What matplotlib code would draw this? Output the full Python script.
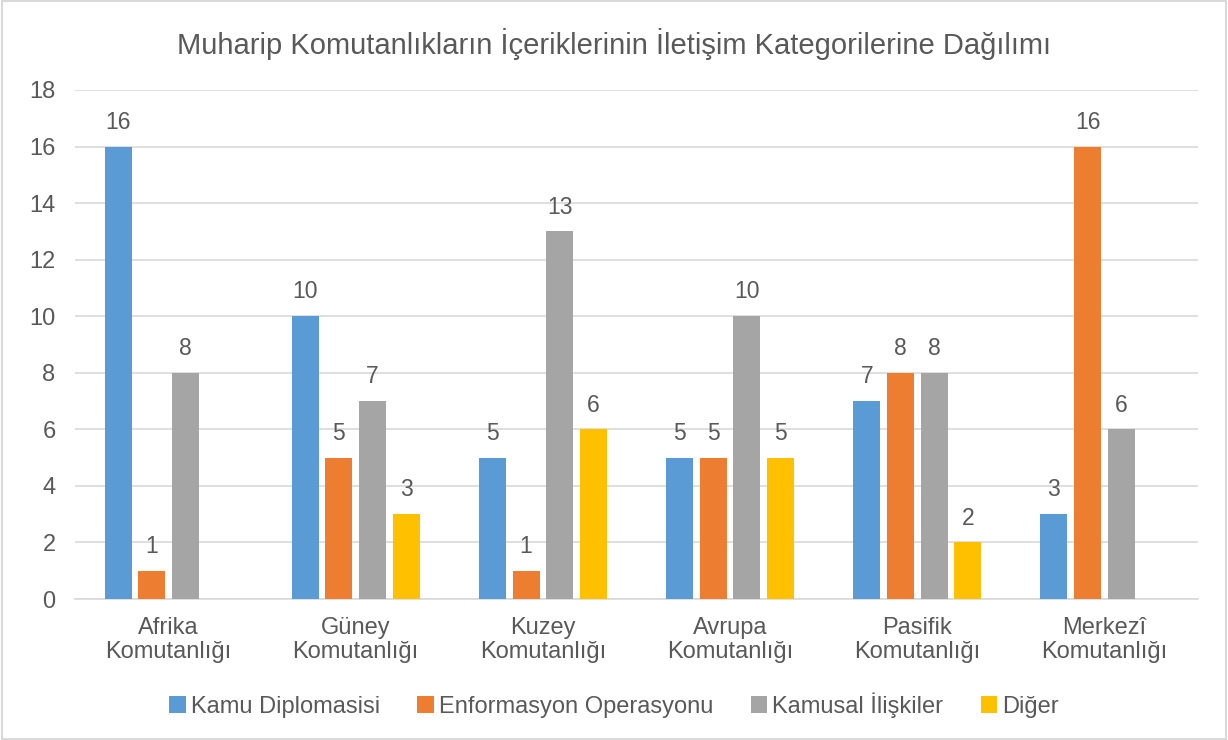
import numpy as np
import matplotlib.pyplot as plt
from matplotlib.patches import Rectangle, Patch

categories = ["Afrika\nKomutanlığı", "Güney\nKomutanlığı", "Kuzey\nKomutanlığı",
              "Avrupa\nKomutanlığı", "Pasifik\nKomutanlığı", "Merkezî\nKomutanlığı"]
series_names = ["Kamu Diplomasisi", "Enformasyon Operasyonu", "Kamusal İlişkiler", "Diğer"]
kamu_diplomasisi = [16, 10, 5, 5, 7, 3]
enformasyon = [1, 5, 1, 5, 8, 16]
kamusal = [8, 7, 13, 10, 8, 6]
diger = [None, 3, 6, 5, 2, None]
colors = ["#5B9BD5", "#ED7D31", "#A5A5A5", "#FFC000"]

TEXT = "#595959"
plt.rcParams['font.family'] = ['Liberation Sans', 'DejaVu Sans']


def main():
    fig = plt.figure(figsize=(12.28, 7.4), dpi=100)
    ax = fig.add_axes([75 / 1228, 1 - 599 / 740, 1123 / 1228, 509 / 740])

    x = np.arange(len(categories))
    width = 0.144
    step = 0.18
    all_series = [kamu_diplomasisi, enformasyon, kamusal, diger]
    for i, (vals, c) in enumerate(zip(all_series, colors)):
        pos = x + (i - 1.5) * step
        for p, v in zip(pos, vals):
            if v is None:
                continue
            ax.bar(p, v, width, color=c, zorder=3)
            ax.text(p, v + 0.45, str(v), ha="center", va="bottom",
                    fontsize=16.5, color=TEXT)

    ax.set_xlim(-0.5, len(categories) - 0.5)
    ax.set_ylim(0, 18)
    ax.set_yticks(range(0, 19, 2))
    ax.yaxis.grid(True, color="#D9D9D9", linewidth=1.2, zorder=0)
    for s in ["top", "right", "left"]:
        ax.spines[s].set_visible(False)
    ax.spines["bottom"].set_color("#D9D9D9")
    ax.spines["bottom"].set_linewidth(1.2)
    ax.tick_params(axis="both", length=0, labelsize=17, colors=TEXT)
    ax.tick_params(axis="y", pad=14)
    ax.tick_params(axis="x", pad=13)
    ax.set_xticks(x)
    ax.set_xticklabels(categories, linespacing=1.1)

    fig.text(0.5, 1 - 44 / 740, "Muharip Komutanlıkların İçeriklerinin İletişim Kategorilerine Dağılımı",
             ha="center", va="center", fontsize=21, color=TEXT)

    handles = [Patch(facecolor=c, label=n) for c, n in zip(colors, series_names)]
    fig.legend(handles=handles, loc="center", bbox_to_anchor=(0.5, 1 - 705 / 740), ncol=4,
               frameon=False, fontsize=17, handlelength=0.7, handleheight=0.7,
               handletextpad=0.2, columnspacing=1.6, labelcolor=TEXT)

    fig.patches.append(Rectangle((0.002, 0.002), 0.996, 0.996, transform=fig.transFigure,
                                 fill=False, edgecolor="#D9D9D9", linewidth=1.5))

    fig.savefig("out.png", dpi=100)


if __name__ == '__main__':
    main()
